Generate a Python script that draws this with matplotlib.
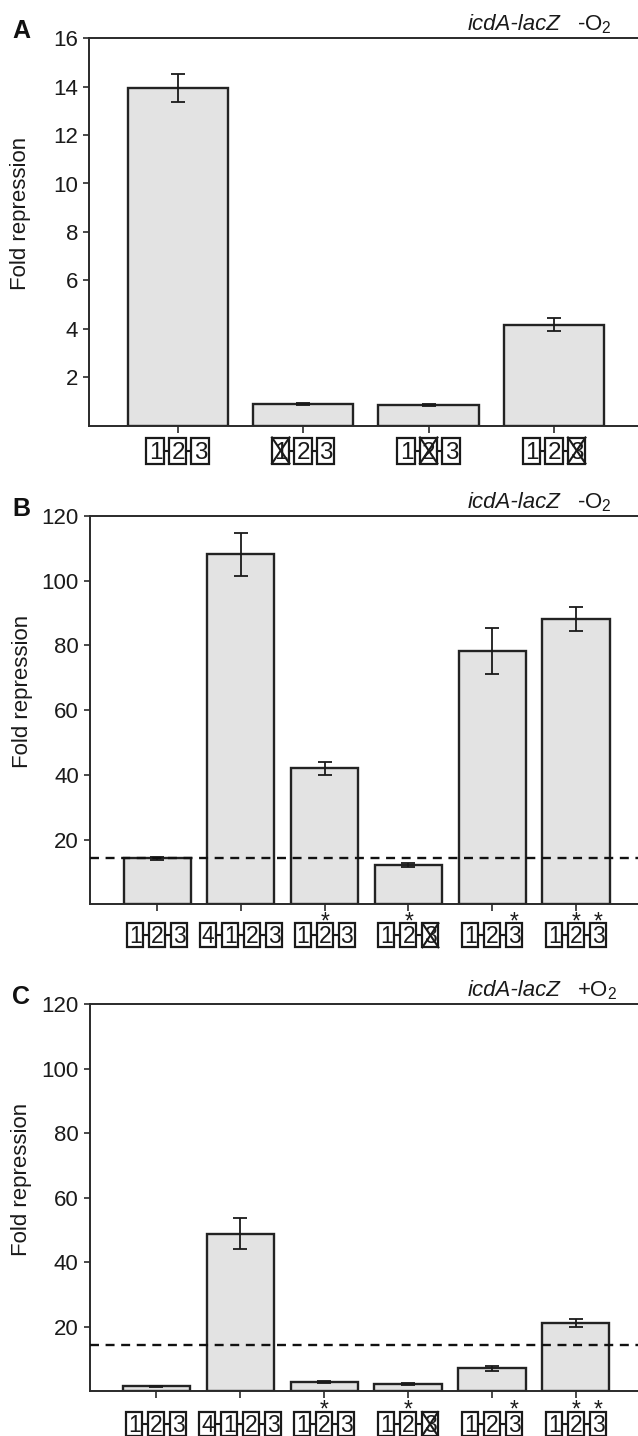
import matplotlib
matplotlib.use("Agg")
import matplotlib.pyplot as plt
from matplotlib.patches import Rectangle
from matplotlib.lines import Line2D
from matplotlib.transforms import IdentityTransform

plt.rcParams['font.family'] = ['Liberation Sans', 'DejaVu Sans']
plt.rcParams['mathtext.fontset'] = 'custom'
plt.rcParams['mathtext.rm'] = 'Liberation Sans'
plt.rcParams['mathtext.it'] = 'Liberation Sans:italic'

# ---------------- data ----------------
A_constructs = ["1-2-3", "1x-2-3", "1-2x-3", "1-2-3x"]
A_values = [13.95, 0.88, 0.83, 4.17]
A_errors = [0.58, 0.03, 0.04, 0.26]

B_constructs = ["1-2-3", "4-1-2-3", "1-2*-3", "1-2*-3x", "1-2-3*", "1-2*-3*"]
B_values = [14.2, 108.2, 42.0, 12.1, 78.3, 88.2]
B_errors = [0.5, 6.6, 2.1, 0.6, 7.1, 3.7]

C_constructs = ["1-2-3", "4-1-2-3", "1-2*-3", "1-2*-3x", "1-2-3*", "1-2*-3*"]
C_values = [1.4, 48.8, 2.8, 2.1, 7.0, 21.2]
C_errors = [0.15, 4.8, 0.3, 0.25, 0.8, 1.2]

baseline_repression = 14.4

panel_letters = ["A", "B", "C"]
panel_conditions = ["-O$_\\mathregular{2}$", "-O$_\\mathregular{2}$", "+O$_\\mathregular{2}$"]
reporter = "icdA-lacZ"
ylabel = "Fold repression"
A_yticks = [2, 4, 6, 8, 10, 12, 14, 16]
BC_yticks = [20, 40, 60, 80, 100, 120]

# ---------------- layout ----------------
W, H = 638, 1436
DPI = 100
PX = DPI / 72.0
fig = plt.figure(figsize=(W / DPI, H / DPI), dpi=DPI)

def frac_axes(left_px, top_px, bottom_px):
    return [left_px / W, (H - bottom_px) / H, (W - left_px) / W, (bottom_px - top_px) / H]

axA = fig.add_axes(frac_axes(89, 38.3, 425.5))
axB = fig.add_axes(frac_axes(90, 516, 904.3))
axC = fig.add_axes(frac_axes(89.5, 1004.3, 1391))

BAR_FACE = "#e3e3e3"
EDGE = "#232323"
INK = "#1a1a1a"

def style_axes(ax, xpos, ymax, yticks, xlim):
    ax.set_xlim(*xlim)
    ax.set_ylim(0, ymax)
    ax.set_yticks(yticks)
    ax.set_xticks(xpos)
    ax.set_xticklabels([])
    for s in ["top", "bottom", "left"]:
        ax.spines[s].set_linewidth(1.4)
        ax.spines[s].set_color("#2a2a2a")
    ax.spines["right"].set_visible(False)
    ax.tick_params(axis="y", direction="out", length=4.5, width=1.2, color="#2a2a2a",
                   labelsize=16, pad=3.5, labelcolor=INK)
    ax.tick_params(axis="x", direction="out", length=5, width=1.2, color="#2a2a2a")

def draw_bars(ax, values, errors):
    xpos = list(range(len(values)))
    ax.bar(xpos, values, width=0.8, color=BAR_FACE, edgecolor=EDGE, linewidth=1.7, zorder=2)
    ax.errorbar(xpos, values, yerr=errors, fmt="none", ecolor=INK,
                elinewidth=1.3, capsize=5, capthick=1.3, zorder=3)
    return xpos

def draw_construct(ax, x, label, offset_px, bw, bh, gap, fs):
    tokens = label.split("-")
    n = len(tokens)
    total = n * bw + (n - 1) * gap
    px, py = ax.transData.transform((x, 0))
    cy = py - offset_px
    ident = IdentityTransform()
    left0 = px - total / 2
    em = fs * PX
    digit_h = 0.716 * em
    descent = 0.212 * em
    for i, tok in enumerate(tokens):
        digit = tok[0]
        left = left0 + i * (bw + gap)
        rect = Rectangle((left, cy - bh / 2), bw, bh, transform=ident,
                         facecolor="white", edgecolor=INK, linewidth=1.6, zorder=5)
        fig.add_artist(rect)
        txt = ("*\n" + digit) if "*" in tok else digit
        fig.text(left + bw / 2 + 0.3, cy - digit_h / 2 - descent, txt, transform=ident,
                 ha="center", va="bottom", multialignment="center", linespacing=0.56,
                 fontsize=fs, color=INK, zorder=6)
        if "x" in tok:
            for (xa, ya, xb, yb) in [(left, cy - bh / 2, left + bw, cy + bh / 2),
                                     (left, cy + bh / 2, left + bw, cy - bh / 2)]:
                fig.add_artist(Line2D([xa, xb], [ya, yb], transform=ident,
                                      color=INK, linewidth=1.5, zorder=7))
        if i < n - 1:
            fig.add_artist(Line2D([left + bw, left + bw + gap], [cy, cy], transform=ident,
                                  color=INK, linewidth=1.5, zorder=5))

panels = [
    (axA, A_values, A_errors, A_constructs, 16, A_yticks, (-0.707, 3.668), 25, (17.5, 26, 5), 17.5, False),
    (axB, B_values, B_errors, B_constructs, 120, BC_yticks, (-0.80, 5.74), 31, (16, 24, 6), 16.5, True),
    (axC, C_values, C_errors, C_constructs, 120, BC_yticks, (-0.795, 5.74), 33, (16, 24, 6), 16.5, True),
]

for k, (ax, vals, errs, cons, ymax, yt, xl, off, (bw, bh, gap), fs, dashed) in enumerate(panels):
    xpos = draw_bars(ax, vals, errs)
    style_axes(ax, xpos, ymax, yt, xl)
    if dashed:
        ax.axhline(baseline_repression, color="#111111", linewidth=1.7,
                   linestyle=(0, (3.8, 2.8)), zorder=4)
    ax.text(-0.124, 0.548, ylabel, transform=ax.transAxes, rotation=90,
            ha="center", va="center", fontsize=16, color=INK)
    pos = ax.get_position()
    top_px = pos.y1 * H
    fig.text(12 / W, pos.y1, panel_letters[k], ha="left", va="baseline",
             fontsize=18, fontweight="bold", color="#111111")
    fig.text(561 / W, (top_px + 8) / H, reporter, ha="right", va="baseline",
             fontsize=16, style="italic", color=INK)
    fig.text(577 / W, (top_px + 8) / H, panel_conditions[k], ha="left", va="baseline",
             fontsize=16, color=INK)
    for x, lab in zip(xpos, cons):
        draw_construct(ax, x, lab, off, bw, bh, gap, fs)

fig.savefig("out.png", dpi=DPI)
